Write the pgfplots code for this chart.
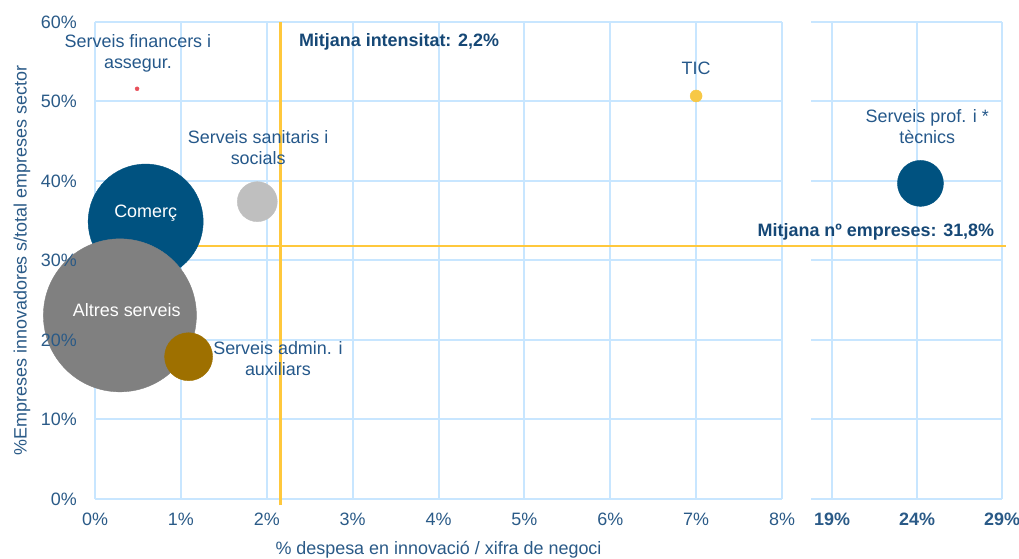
\documentclass[border=0pt]{standalone}
\usepackage{fontspec}
\setmainfont{Liberation Sans}
\usepackage{pgfplots}
\pgfplotsset{compat=1.18}
\definecolor{gridblue}{RGB}{200,230,255}
\definecolor{tickblue}{RGB}{42,90,135}
\definecolor{lblblue}{RGB}{37,88,138}
\definecolor{boldblue}{RGB}{22,72,118}
\definecolor{meangold}{RGB}{255,200,60}
\definecolor{cblue}{RGB}{0,82,128}
\definecolor{cgray}{RGB}{128,128,128}
\definecolor{clgray}{RGB}{191,191,191}
\definecolor{cbrown}{RGB}{158,112,0}
\definecolor{cyellow}{RGB}{247,200,70}
\definecolor{cred}{RGB}{232,80,90}
\tikzset{lbl/.style={font=\fontsize{18}{21}\selectfont, text=lblblue, align=center, inner sep=0pt}}
\begin{document}
\begin{tikzpicture}
\useasboundingbox (0bp,0bp) rectangle (1019bp,559bp);
\pgfplotsset{
  every axis/.append style={
    scale only axis, ymin=0, ymax=60, ytick={0,10,...,60},
    grid style={gridblue, line width=2bp},
    axis line style={draw=none}, major tick length=0pt,
    tick label style={font=\fontsize{18}{21}\selectfont, text=tickblue, inner sep=0pt},
    xticklabel style={anchor=base, yshift=-26bp},
    yticklabel style={anchor=east, xshift=-18bp},
    clip=false, clip marker paths=true,
  },
  leftaxis/.style={
    at={(95bp,60bp)}, anchor=south west,
    width=687bp, height=477bp,
    xmin=0, xmax=8,
    xtick={0,1,...,8},
  },
}
% left panel: grid and bubbles
\begin{axis}[leftaxis, grid=major, xticklabels={}, yticklabels={}]
% mean lines
\addplot[meangold, line width=2.2bp] coordinates {(2.16,-0.8) (2.16,60)};
\addplot[meangold, line width=2.2bp] coordinates {(0,31.8) (10.6,31.8)};
% bubbles
\addplot[only marks, mark=*, color=cblue, mark size=57.5bp] coordinates {(0.59,34.9)};
\addplot[only marks, mark=*, color=cgray, mark size=76.5bp] coordinates {(0.29,23.1)};
\addplot[only marks, mark=*, color=cbrown, mark size=24bp] coordinates {(1.09,17.9)};
\addplot[only marks, mark=*, color=clgray, mark size=20bp] coordinates {(1.89,37.4)};
\addplot[only marks, mark=*, color=cyellow, mark size=6bp] coordinates {(7.0,50.7)};
\addplot[only marks, mark=*, color=cred, mark size=2bp] coordinates {(0.49,51.6)};
% labels
\node[lbl] at (axis cs:0.50,56.0) {Serveis financers i\\assegur.};
\node[lbl] at (axis cs:7.0,54.2) {TIC};
\node[lbl] at (axis cs:1.90,44.2) {Serveis sanitaris i\\socials};
\node[lbl, text=white] at (axis cs:0.59,36.0) {Comerç};
\node[lbl, text=white] at (axis cs:0.37,23.8) {Altres serveis};
\node[lbl] at (axis cs:2.13,17.7) {Serveis admin. i\\auxiliars};
\node[lbl, text=boldblue, font=\fontsize{18}{21}\selectfont\bfseries] at (axis cs:3.54,57.5) {Mitjana intensitat: 2,2\%};
\end{axis}
% left panel: tick labels and axis titles on top
\begin{axis}[leftaxis,
  xticklabels={0\%,1\%,2\%,3\%,4\%,5\%,6\%,7\%,8\%},
  yticklabels={0\%,10\%,20\%,30\%,40\%,50\%,60\%},
  xlabel={\% despesa en innovació / xifra de negoci},
  ylabel={\%Empreses innovadores s/total empreses sector},
  label style={font=\fontsize{18}{21}\selectfont, text=tickblue},
  xlabel style={at={([yshift=-51bp]axis description cs:0.5,0)}, anchor=center},
  ylabel style={at={([xshift=-73bp]axis description cs:0,0.5)}, anchor=center},
]
\end{axis}
% right panel
\begin{axis}[
  at={(811bp,60bp)}, anchor=south west,
  width=191bp, height=477bp,
  grid=major,
  xmin=17.76, xmax=29,
  xtick={19,24,29},
  xticklabels={\textbf{19\%},\textbf{24\%},\textbf{29\%}},
  yticklabels={},
]
\addplot[meangold, line width=2.2bp] coordinates {(17.5,31.8) (29.25,31.8)};
\addplot[only marks, mark=*, color=cblue, mark size=23bp] coordinates {(24.2,39.7)};
\node[lbl] at (axis cs:24.6,46.8) {Serveis prof. i *\\tècnics};
\node[lbl, text=boldblue, font=\fontsize{18}{21}\selectfont\bfseries] at (axis cs:21.58,33.6) {Mitjana nº empreses: 31,8\%};
\end{axis}
\end{tikzpicture}
\end{document}
